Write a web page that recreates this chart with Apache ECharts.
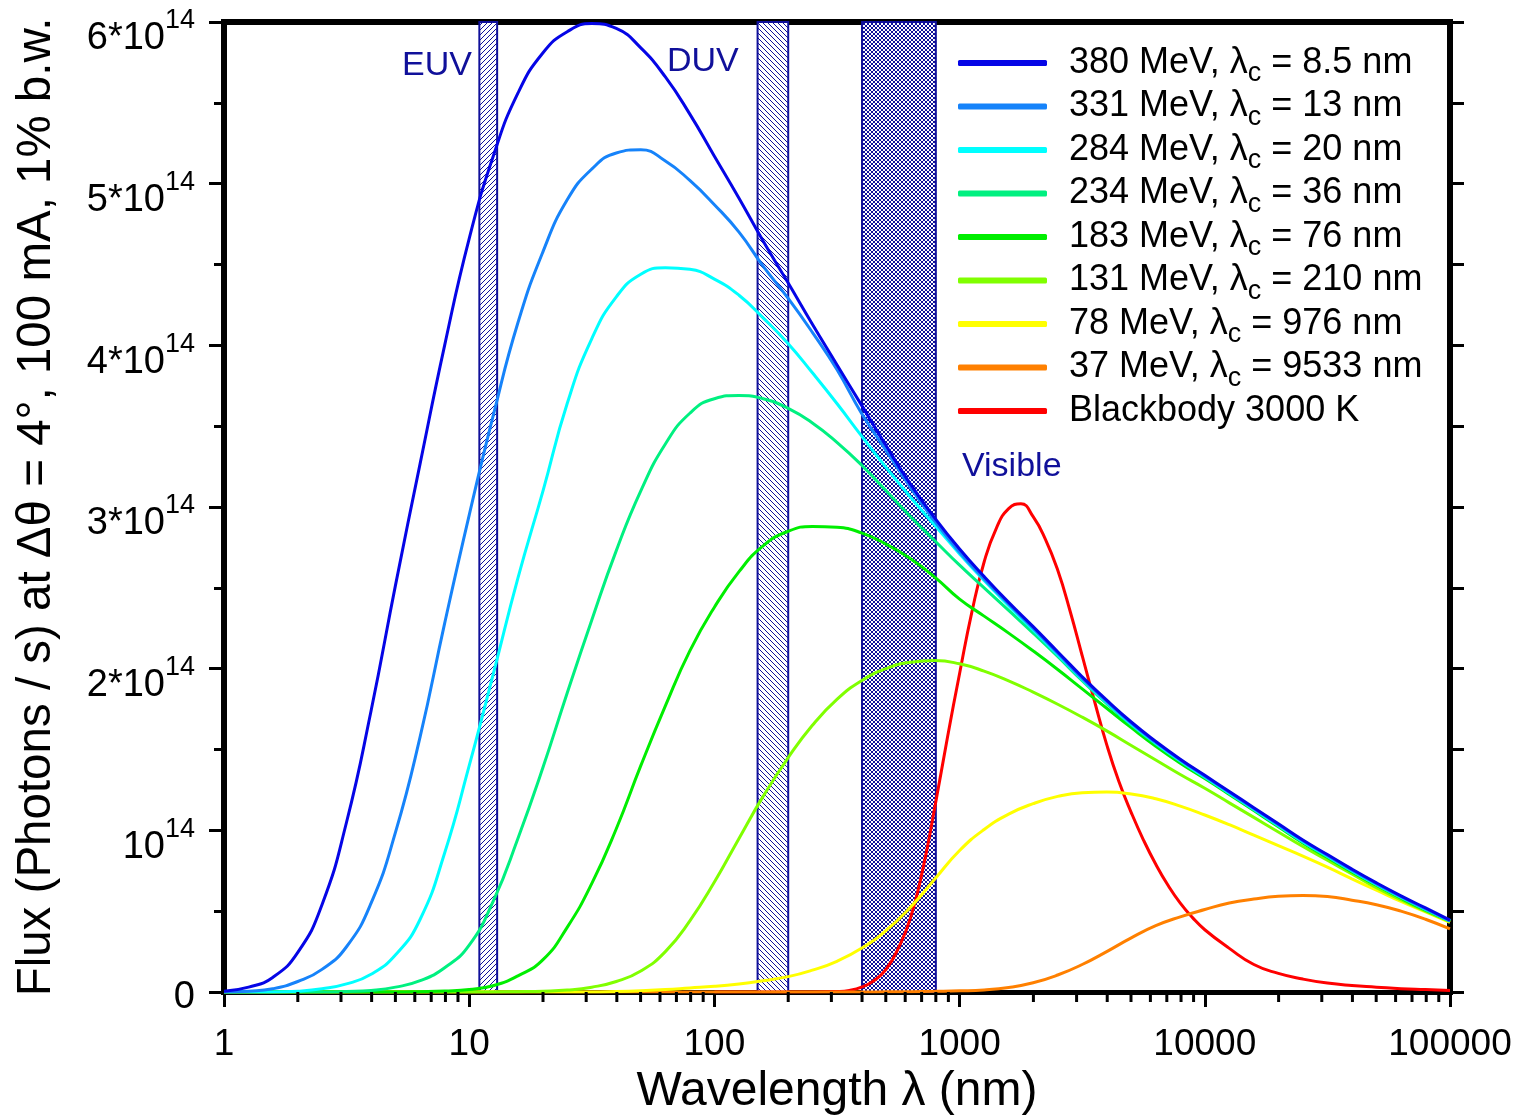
<!DOCTYPE html>
<html>
<head>
<meta charset="utf-8">
<script src="https://cdn.jsdelivr.net/npm/echarts@6/dist/echarts.min.js"></script>
<style>
html, body { margin: 0; padding: 0; background: #fff; }
#chart { width: 1517px; height: 1117px; }
</style>
</head>
<body>
<div id="chart"></div>
<script>
// wavelength grid (nm), ten steps per decade, shared by the synchrotron curves
var wavelengths = [1, 1.26, 1.58, 2, 2.51, 3.16, 3.98, 5.01, 6.31, 7.94,
    10, 12.6, 15.8, 20, 25.1, 31.6, 39.8, 50.1, 63.1, 79.4,
    100, 126, 158, 200, 251, 316, 398, 501, 631, 794,
    1000, 1259, 1585, 1995, 2512, 3162, 3981, 5012, 6310, 7943,
    10000, 12589, 15849, 19953, 25119, 31623, 39811, 50119, 63096, 79433, 100000];

// flux in units of 10^14 photons/s
var flux380 = [0.005, 0.03, 0.09, 0.245, 0.54, 1.05, 1.74, 2.52, 3.27, 4.00,
    4.66, 5.18, 5.56, 5.81, 5.94, 5.99, 5.96, 5.84, 5.66, 5.43,
    5.17, 4.91, 4.645, 4.385, 4.13, 3.88, 3.63, 3.38, 3.14, 2.93,
    2.74, 2.57, 2.41, 2.26, 2.105, 1.95, 1.805, 1.67, 1.55, 1.44,
    1.34, 1.24, 1.14, 1.04, 0.94, 0.85, 0.76, 0.675, 0.595, 0.52, 0.445];
var flux331 = [0, 0.005, 0.02, 0.065, 0.14, 0.28, 0.55, 0.99, 1.58, 2.28,
    2.95, 3.58, 4.14, 4.58, 4.90, 5.09, 5.19, 5.21, 5.14, 5.02,
    4.87, 4.70, 4.49, 4.29, 4.08, 3.85, 3.58, 3.35, 3.12, 2.91,
    2.72, 2.555, 2.40, 2.25, 2.095, 1.94, 1.797, 1.663, 1.544, 1.435,
    1.335, 1.235, 1.135, 1.035, 0.935, 0.845, 0.755, 0.67, 0.59, 0.515, 0.44];
var flux284 = [0, 0, 0, 0.005, 0.02, 0.05, 0.11, 0.23, 0.45, 0.86,
    1.40, 1.98, 2.56, 3.10, 3.64, 4.04, 4.30, 4.44, 4.48, 4.47,
    4.41, 4.31, 4.17, 4.01, 3.83, 3.64, 3.44, 3.245, 3.06, 2.885,
    2.71, 2.545, 2.39, 2.24, 2.087, 1.933, 1.79, 1.657, 1.539, 1.43,
    1.33, 1.23, 1.13, 1.03, 0.93, 0.84, 0.75, 0.665, 0.587, 0.512, 0.44];
var flux234 = [0, 0, 0, 0, 0, 0.003, 0.01, 0.03, 0.07, 0.15,
    0.29, 0.57, 0.95, 1.39, 1.85, 2.30, 2.73, 3.10, 3.39, 3.58,
    3.67, 3.69, 3.67, 3.61, 3.52, 3.40, 3.26, 3.10, 2.94, 2.79,
    2.64, 2.50, 2.36, 2.22, 2.075, 1.925, 1.783, 1.653, 1.535, 1.428,
    1.328, 1.228, 1.128, 1.028, 0.928, 0.838, 0.748, 0.664, 0.585, 0.51, 0.44];
var flux183 = [0, 0, 0, 0, 0, 0, 0, 0, 0.002, 0.006,
    0.015, 0.04, 0.10, 0.20, 0.40, 0.67, 1.01, 1.40, 1.77, 2.11,
    2.38, 2.60, 2.76, 2.85, 2.88, 2.875, 2.84, 2.77, 2.68, 2.565,
    2.43, 2.325, 2.22, 2.11, 1.995, 1.875, 1.755, 1.635, 1.52, 1.415,
    1.32, 1.222, 1.122, 1.022, 0.922, 0.832, 0.743, 0.66, 0.58, 0.506, 0.44];
var flux131 = [0, 0, 0, 0, 0, 0, 0, 0, 0, 0,
    0, 0, 0.002, 0.005, 0.012, 0.03, 0.065, 0.13, 0.25, 0.44,
    0.68, 0.95, 1.21, 1.45, 1.65, 1.81, 1.925, 2.00, 2.04, 2.05,
    2.03, 1.985, 1.925, 1.855, 1.78, 1.70, 1.615, 1.525, 1.435, 1.345,
    1.26, 1.17, 1.08, 0.99, 0.90, 0.815, 0.73, 0.645, 0.57, 0.50, 0.435];
var flux78 = [0, 0, 0, 0, 0, 0, 0, 0, 0, 0,
    0, 0, 0, 0, 0, 0, 0.003, 0.008, 0.015, 0.025,
    0.035, 0.05, 0.07, 0.095, 0.135, 0.19, 0.27, 0.38, 0.525, 0.70,
    0.875, 1.005, 1.10, 1.165, 1.21, 1.233, 1.237, 1.225, 1.195, 1.15,
    1.095, 1.035, 0.97, 0.905, 0.84, 0.772, 0.70, 0.63, 0.56, 0.495, 0.43];
var flux37 = [0, 0, 0, 0, 0, 0, 0, 0, 0, 0,
    0, 0, 0, 0, 0, 0, 0, 0, 0, 0,
    0, 0, 0, 0, 0, 0, 0, 0.001, 0.002, 0.004,
    0.007, 0.013, 0.028, 0.057, 0.105, 0.17, 0.25, 0.335, 0.41, 0.465,
    0.51, 0.55, 0.575, 0.592, 0.597, 0.59, 0.568, 0.54, 0.50, 0.45, 0.39];

// blackbody 3000 K
var bbWavelengths = [100, 158, 251, 316, 355, 398, 447, 501, 562, 631, 708, 794, 891,
    1000, 1122, 1259, 1413, 1585, 1778, 1995, 2239, 2512, 2818, 3162, 3548, 3981, 4467, 5012, 5623, 6310, 7079, 7943, 8913,
    10000, 12589, 15849, 19953, 25119, 31623, 39811, 50119, 63096, 79433, 100000];
var bbFlux = [0, 0, 0, 0.003, 0.01, 0.03, 0.07, 0.14, 0.27, 0.46, 0.76, 1.15, 1.57,
    1.97, 2.35, 2.66, 2.87, 2.99, 3.02, 2.94, 2.80, 2.61, 2.36, 2.08, 1.80, 1.53, 1.30, 1.11, 0.94, 0.79, 0.66, 0.55, 0.46,
    0.385, 0.27, 0.17, 0.115, 0.08, 0.055, 0.04, 0.03, 0.02, 0.015, 0.01];

var seriesNames = ['380 MeV, λc = 8.5 nm', '331 MeV, λc = 13 nm', '284 MeV, λc = 20 nm', '234 MeV, λc = 36 nm',
    '183 MeV, λc = 76 nm', '131 MeV, λc = 210 nm', '78 MeV, λc = 976 nm', '37 MeV, λc = 9533 nm', 'Blackbody 3000 K'];
var seriesColors = ['#0505E6', '#1683FA', '#00FFFF', '#00F080', '#00EE00', '#80FF00', '#FFFF00', '#FF8000', '#FF0000'];

// spectral bands (nm)
var bandNames = ['EUV', 'DUV', 'Visible'];
var bandFrom = [11, 150, 400];
var bandTo = [13, 200, 800];
var bandHatch = ['fwd', 'back', 'cross'];

var FONT = '"Liberation Sans", Arial, sans-serif';
var NAVY = '#10109A';

function pair(xs, ys) {
    return xs.map(function (x, i) { return [x, ys[i]]; });
}

function hatch(kind) {
    var s = kind === 'cross' ? 4 : 5;
    var c = document.createElement('canvas');
    c.width = s; c.height = s;
    var g = c.getContext('2d');
    g.fillStyle = '#ffffff';
    g.fillRect(0, 0, s, s);
    g.strokeStyle = NAVY;
    g.lineWidth = 1;
    g.beginPath();
    if (kind === 'fwd' || kind === 'cross') {
        g.moveTo(-1, s + 1); g.lineTo(s + 1, -1);
        g.moveTo(-1, 1); g.lineTo(1, -1);
        g.moveTo(s - 1, s + 1); g.lineTo(s + 1, s - 1);
    }
    if (kind === 'back' || kind === 'cross') {
        g.moveTo(-1, -1); g.lineTo(s + 1, s + 1);
        g.moveTo(s - 1, -1); g.lineTo(s + 1, 1);
        g.moveTo(-1, s - 1); g.lineTo(1, s + 1);
    }
    g.stroke();
    return c;
}

// minor ticks of the log axis (2..9 per decade)
var minorTickValues = [];
for (var d = 1; d < 100000; d *= 10) {
    for (var m = 2; m <= 9; m++) minorTickValues.push([d * m, 0]);
}

var curveData = [flux380, flux331, flux284, flux234, flux183, flux131, flux78, flux37];

var series = [];
// blackbody first so it sits under the others, with the bands under everything
series.push({
    name: seriesNames[8],
    type: 'line',
    data: pair(bbWavelengths, bbFlux),
    showSymbol: false,
    smooth: 0.5,
    color: seriesColors[8],
    lineStyle: { width: 3, color: seriesColors[8] },
    markArea: {
        silent: true,
        data: bandNames.map(function (n, i) {
            return [{
                xAxis: bandFrom[i],
                itemStyle: {
                    color: { image: hatch(bandHatch[i]), repeat: 'repeat' },
                    borderColor: NAVY,
                    borderWidth: 2
                }
            }, { xAxis: bandTo[i] }];
        })
    }
});
for (var i = curveData.length - 1; i >= 0; i--) {
    series.push({
        name: seriesNames[i],
        type: 'line',
        data: pair(wavelengths, curveData[i]),
        showSymbol: false,
        smooth: 0.5,
        color: seriesColors[i],
        lineStyle: { width: 3, color: seriesColors[i] }
    });
}
series.push({
    type: 'custom',
    data: minorTickValues,
    silent: true,
    z: 10,
    renderItem: function (params, api) {
        var p = api.coord([api.value(0), 0]);
        return {
            type: 'line',
            shape: { x1: p[0], y1: p[1], x2: p[0], y2: p[1] + 10 },
            style: { stroke: '#000', lineWidth: 3 }
        };
    }
});

var option = {
    animation: false,
    backgroundColor: '#fff',
    grid: { left: 224, right: 67, top: 22, bottom: 125, outerBoundsMode: 'none' },
    legend: {
        data: seriesNames,
        orient: 'vertical',
        left: 953,
        top: 39,
        itemWidth: 89,
        itemHeight: 6,
        itemGap: 0,
        icon: 'roundRect',
        formatter: function (name) { return name.replace('λc', 'λ{sub|c}'); },
        textStyle: {
            fontFamily: FONT,
            fontSize: 36,
            color: '#000',
            lineHeight: 38,
            padding: [0, 0, 0, 17],
            rich: {
                sub: { fontFamily: FONT, fontSize: 27, color: '#000', padding: [22, 0, 0, 0] }
            }
        }
    },
    xAxis: [{
        type: 'log',
        logBase: 10,
        min: 1,
        max: 100000,
        name: 'Wavelength λ (nm)',
        nameLocation: 'middle',
        nameGap: 74,
        nameTextStyle: { fontFamily: FONT, fontSize: 48, color: '#000' },
        axisLine: { show: true, onZero: false, lineStyle: { color: '#000', width: 5, cap: 'square' } },
        axisTick: { show: true, length: 15, lineStyle: { color: '#000', width: 3 } },
        axisLabel: {
            fontFamily: FONT, fontSize: 37, color: '#000', margin: 34,
            formatter: function (v) { return String(Math.round(v)); }
        },
        splitLine: { show: false }
    }, {
        type: 'log',
        logBase: 10,
        min: 1,
        max: 100000,
        position: 'top',
        axisLine: { show: true, onZero: false, lineStyle: { color: '#000', width: 6, cap: 'square' } },
        axisTick: { show: false },
        axisLabel: { show: false },
        splitLine: { show: false }
    }],
    yAxis: [{
        type: 'value',
        min: 0,
        max: 6,
        interval: 1,
        name: 'Flux (Photons / s) at Δθ = 4°, 100 mA, 1% b.w.',
        nameLocation: 'middle',
        nameGap: 163,
        nameTextStyle: { fontFamily: FONT, fontSize: 47.5, color: '#000' },
        axisLine: { show: true, lineStyle: { color: '#000', width: 6, cap: 'square' } },
        axisTick: { show: true, length: 15, lineStyle: { color: '#000', width: 3 } },
        minorTick: { show: true, splitNumber: 2, length: 10, lineStyle: { color: '#000', width: 3 } },
        axisLabel: {
            fontFamily: FONT,
            fontSize: 38,
            color: '#000',
            margin: 29,
            formatter: function (v) {
                if (v === 0) return '{z|0}';
                if (v === 1) return '{b|10}{sup|14}';
                return '{b|' + v + '*10}{sup|14}';
            },
            rich: {
                b: { fontFamily: FONT, fontSize: 38, color: '#000', padding: [34, 0, 0, 0] },
                z: { fontFamily: FONT, fontSize: 38, color: '#000', padding: [12, 0, 0, 0] },
                sup: { fontFamily: FONT, fontSize: 27, color: '#000', padding: [0, 0, 2, 0] }
            }
        },
        splitLine: { show: false }
    }, {
        type: 'value',
        min: 0,
        max: 6,
        interval: 1,
        position: 'right',
        axisLine: { show: true, lineStyle: { color: '#000', width: 6, cap: 'square' } },
        axisTick: { show: true, length: 14, lineStyle: { color: '#000', width: 3 } },
        minorTick: { show: true, splitNumber: 2, length: 14, lineStyle: { color: '#000', width: 3 } },
        axisLabel: { show: false },
        splitLine: { show: false }
    }],
    graphic: [
        { type: 'text', x: 472, y: 66, z: 20, style: { text: 'EUV', fill: NAVY, font: '34px ' + FONT, align: 'right', verticalAlign: 'middle' } },
        { type: 'text', x: 667, y: 62, z: 20, style: { text: 'DUV', fill: NAVY, font: '34px ' + FONT, align: 'left', verticalAlign: 'middle' } },
        { type: 'text', x: 962, y: 467, z: 20, style: { text: 'Visible', fill: NAVY, font: '34px ' + FONT, align: 'left', verticalAlign: 'middle' } }
    ],
    series: series
};

var chart = echarts.init(document.getElementById('chart'));
chart.setOption(option);
window.onresize = function () { chart.resize(); };
</script>
</body>
</html>
